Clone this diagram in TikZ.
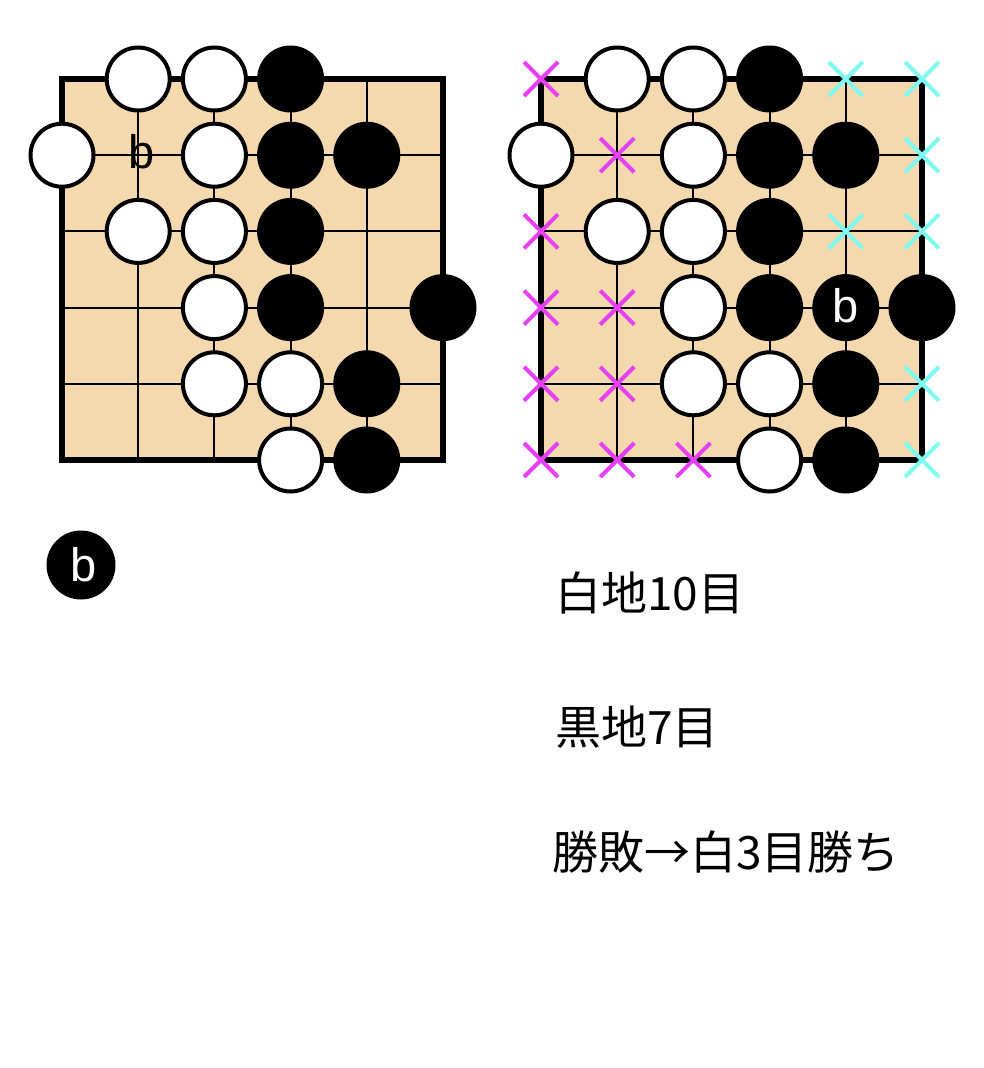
\documentclass[tikz,border=0pt]{standalone}
\usepackage{fontspec}
\setsansfont{Liberation Sans}
\newfontfamily\jpfont{Noto Sans CJK JP}
\usetikzlibrary{shapes.misc}
\definecolor{colorBoard}{RGB}{244,216,174}
\definecolor{colorWhiteArea}{RGB}{230,64,245}
\definecolor{colorBlackArea}{RGB}{128,250,240}
\tikzset{
  wstone/.style={circle, draw=black, fill=white, line width=4pt, minimum size=63pt, inner sep=0pt},
  bstone/.style={circle, fill=black, minimum size=67pt, inner sep=0pt, text=white, font=\sffamily\fontsize{47}{47}\selectfont},
  wmark/.style={cross out, draw=colorWhiteArea, line width=4pt, minimum size=30pt, inner sep=0pt},
  bmark/.style={cross out, draw=colorBlackArea, line width=4pt, minimum size=30pt, inner sep=0pt},
  letter/.style={font=\sffamily\fontsize{47}{47}\selectfont, inner sep=0pt},
  jptext/.style={font=\jpfont\fontsize{46}{46}\selectfont, anchor=west, inner sep=0pt},
  gridline/.style={line width=2pt},
  boardedge/.style={line width=6pt}
}

\begin{document}
\begin{tikzpicture}[x=1pt, y=-1pt]
\useasboundingbox (0,0) rectangle (984,1068);

% left board
\begin{scope}[shift={(62,79)}, x=76.2pt, y=-76.2pt]
\fill[colorBoard] (0,0) rectangle (5,5);
\foreach \i in {1,...,4} {
  \draw[gridline] (\i,0) -- (\i,5);
  \draw[gridline] (0,\i) -- (5,\i);
}
\draw[boardedge] (0,0) rectangle (5,5);
\node[letter] (l11) at (1.05,0.95) {b};
\node[wstone] (l10) at (1,0) {};
\node[wstone] (l20) at (2,0) {};
\node[wstone] (l01) at (0,1) {};
\node[wstone] (l21) at (2,1) {};
\node[wstone] (l12) at (1,2) {};
\node[wstone] (l22) at (2,2) {};
\node[wstone] (l23) at (2,3) {};
\node[wstone] (l24) at (2,4) {};
\node[wstone] (l34) at (3,4) {};
\node[wstone] (l35) at (3,5) {};
\node[bstone] (l30) at (3,0) {};
\node[bstone] (l31) at (3,1) {};
\node[bstone] (l41) at (4,1) {};
\node[bstone] (l32) at (3,2) {};
\node[bstone] (l33) at (3,3) {};
\node[bstone] (l53) at (5,3) {};
\node[bstone] (l44) at (4,4) {};
\node[bstone] (l45) at (4,5) {};
\end{scope}

% right board
\begin{scope}[shift={(541,79)}, x=76.2pt, y=-76.2pt]
\fill[colorBoard] (0,0) rectangle (5,5);
\foreach \i in {1,...,4} {
  \draw[gridline] (\i,0) -- (\i,5);
  \draw[gridline] (0,\i) -- (5,\i);
}
\draw[boardedge] (0,0) rectangle (5,5);
\node[wstone] (r10) at (1,0) {};
\node[wstone] (r20) at (2,0) {};
\node[wstone] (r01) at (0,1) {};
\node[wstone] (r21) at (2,1) {};
\node[wstone] (r12) at (1,2) {};
\node[wstone] (r22) at (2,2) {};
\node[wstone] (r23) at (2,3) {};
\node[wstone] (r24) at (2,4) {};
\node[wstone] (r34) at (3,4) {};
\node[wstone] (r35) at (3,5) {};
\node[bstone] (r30) at (3,0) {};
\node[bstone] (r31) at (3,1) {};
\node[bstone] (r41) at (4,1) {};
\node[bstone] (r32) at (3,2) {};
\node[bstone] (r33) at (3,3) {};
\node[bstone] (r43) at (4,3) {\raisebox{4pt}{b}};
\node[bstone] (r53) at (5,3) {};
\node[bstone] (r44) at (4,4) {};
\node[bstone] (r45) at (4,5) {};
% white area
\node[wmark] (m00) at (0,0) {};
\node[wmark] (m11) at (1,1) {};
\node[wmark] (m02) at (0,2) {};
\node[wmark] (m03) at (0,3) {};
\node[wmark] (m13) at (1,3) {};
\node[wmark] (m04) at (0,4) {};
\node[wmark] (m14) at (1,4) {};
\node[wmark] (m05) at (0,5) {};
\node[wmark] (m15) at (1,5) {};
\node[wmark] (m25) at (2,5) {};
% black area
\node[bmark] (c40) at (4,0) {};
\node[bmark] (c50) at (5,0) {};
\node[bmark] (c51) at (5,1) {};
\node[bmark] (c42) at (4,2) {};
\node[bmark] (c52) at (5,2) {};
\node[bmark] (c54) at (5,4) {};
\node[bmark] (c55) at (5,5) {};
\end{scope}

\node[bstone, minimum size=69pt] (move) at (81,565) {\hspace{6pt}b};
\node[jptext] (whiteArea) at (555,593) {白地10目};
\node[jptext] (blackArea) at (555,727) {黒地7目};
\node[jptext] (result) at (552,852) {勝敗→白3目勝ち};
\end{tikzpicture}
\end{document}
